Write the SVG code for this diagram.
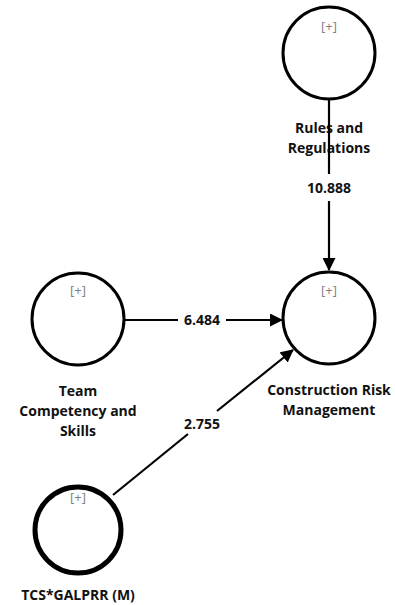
<svg xmlns="http://www.w3.org/2000/svg" width="395" height="605" viewBox="0 0 395 605">
<style>
.c{fill:#fff;stroke:#000;stroke-width:3}
.ct{fill:#fff;stroke:#000;stroke-width:5}
.pl{font-family:"Open Sans","Noto Sans","DejaVu Sans",sans-serif;font-size:13px;fill:#808080;text-anchor:middle}
.lb{font-family:"Open Sans","Noto Sans","DejaVu Sans",sans-serif;font-size:14px;font-weight:bold;fill:#111;text-anchor:middle}
.e{stroke:#000;stroke-width:2.2;fill:none}
</style>
<defs>
<marker id="ah" markerWidth="13" markerHeight="13" refX="12" refY="6.5" orient="auto" markerUnits="userSpaceOnUse">
<path d="M0,0 L13,6.5 L0,13 Z" fill="#000"/>
</marker>
</defs>
<rect width="395" height="605" fill="#fff"/>
<g id="n-rules">
<circle class="c" cx="329" cy="53" r="46"/>
<text class="pl" x="329" y="31">[+]</text>
</g>
<g id="n-crm">
<circle class="c" cx="329" cy="318" r="46"/>
<text class="pl" x="329" y="295">[+]</text>
<text class="lb" x="329" y="395">Construction Risk</text>
<text class="lb" x="329" y="415">Management</text>
</g>
<g id="n-team">
<circle class="c" cx="78" cy="319" r="46"/>
<text class="pl" x="78" y="295">[+]</text>
<text class="lb" x="78" y="396">Team</text>
<text class="lb" x="78" y="416">Competency and</text>
<text class="lb" x="78" y="436">Skills</text>
</g>
<g id="n-tcs">
<circle class="ct" cx="78" cy="530" r="43"/>
<text class="pl" x="78" y="502">[+]</text>
<text class="lb" x="78" y="600">TCS*GALPRR (M)</text>
</g>
<g id="rules-label">
<text class="lb" x="329" y="133">Rules and</text>
<text class="lb" x="329" y="153">Regulations</text>
</g>
<g id="connectors">
<line class="e" x1="329" y1="99" x2="329" y2="174"/>
<line class="e" x1="329" y1="201" x2="329" y2="270" marker-end="url(#ah)"/>
<text class="lb" x="329" y="193">10.888</text>
<line class="e" x1="124" y1="320" x2="178" y2="320"/>
<line class="e" x1="226" y1="320" x2="282" y2="320" marker-end="url(#ah)"/>
<text class="lb" x="202" y="325">6.484</text>
<line class="e" x1="113" y1="495" x2="188" y2="434"/>
<line class="e" x1="217" y1="411" x2="293" y2="350" marker-end="url(#ah)"/>
<text class="lb" x="202" y="429">2.755</text>
</g>
</svg>
